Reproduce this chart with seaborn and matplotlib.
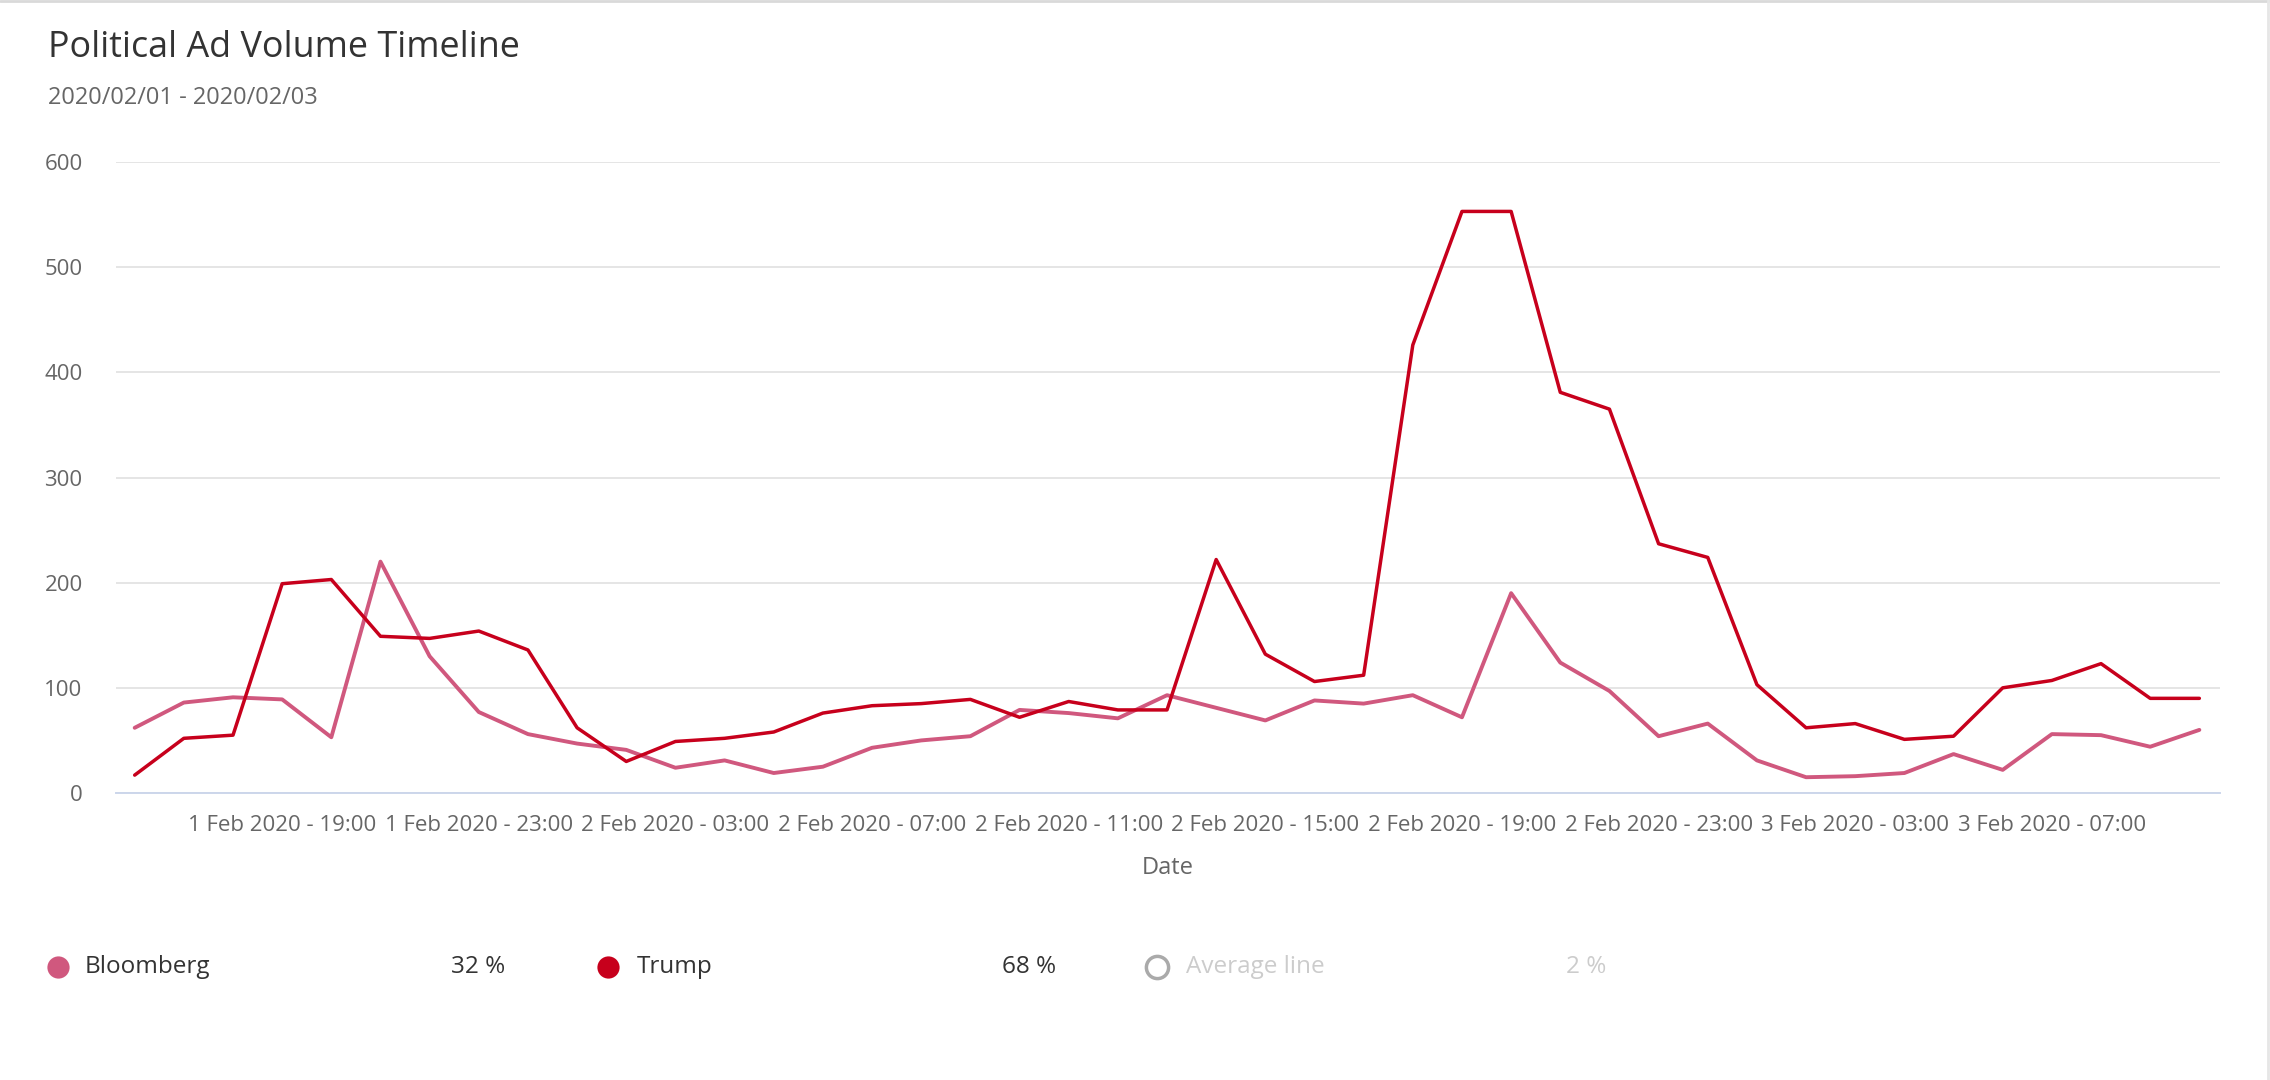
import pandas as pd
import numpy as np
import matplotlib
matplotlib.use("Agg")
import matplotlib.pyplot as plt
from matplotlib.lines import Line2D
import seaborn as sns

# hourly counts, 1 Feb 2020 16:00 -> 3 Feb 2020 10:00
hours = pd.date_range("2020-02-01 16:00", periods=43, freq="h")
bloomberg = [62, 86, 91, 89, 53, 220, 130, 77, 56, 47, 41, 24, 31, 19, 25, 43, 50, 54, 79, 76, 71,
             93, 81, 69, 88, 85, 93, 72, 190, 124, 97, 54, 66, 31, 15, 16, 19, 37, 22, 56, 55, 44, 60]
trump = [17, 52, 55, 199, 203, 149, 147, 154, 136, 62, 30, 49, 52, 58, 76, 83, 85, 89, 72, 87, 79,
         79, 222, 132, 106, 112, 426, 553, 553, 381, 365, 237, 224, 103, 62, 66, 51, 54, 100, 107, 123, 90, 90]

series_names = ["Bloomberg", "Trump", "Average line"]
shares = ["32 %", "68 %", "2 %"]
colors = {"Bloomberg": "#d0587e", "Trump": "#c7001c"}

df = pd.DataFrame({
    "idx": list(range(len(hours))) * 2,
    "count": bloomberg + trump,
    "candidate": ["Bloomberg"] * len(hours) + ["Trump"] * len(hours),
})

sns.set_theme(style="white")
plt.rcParams["font.family"] = ["Open Sans", "DejaVu Sans"]

fig = plt.figure(figsize=(22.7, 10.8), dpi=100)
ax = fig.add_axes([116 / 2270, 1 - 793 / 1080, (2220 - 116) / 2270, (793 - 162) / 1080])

sns.lineplot(data=df, x="idx", y="count", hue="candidate", palette=colors,
             linewidth=2.6, ax=ax, legend=False)
for ln, lw in zip(ax.get_lines(), [2.8, 2.5]):
    ln.set_linewidth(lw)
    ln.set_solid_joinstyle("round")

ax.set_xlim(-0.38, 42.42)
ax.set_ylim(0, 600)
ax.set_yticks(range(0, 601, 100))
ax.grid(axis="y", color="#e3e3e3", linewidth=1.3)
ax.set_axisbelow(True)

tick_idx = list(range(3, len(hours), 4))
ax.set_xticks(tick_idx)
ax.set_xticklabels([f"{hours[i].day} {hours[i]:%b %Y - %H:%M}" for i in tick_idx])

for s in ["top", "right", "left"]:
    ax.spines[s].set_visible(False)
ax.spines["bottom"].set_color("#ccd6eb")
ax.spines["bottom"].set_linewidth(1.4)

ax.tick_params(axis="x", length=13, width=1, color="#ccd6eb", labelsize=16, labelcolor="#666666", pad=3)
ax.tick_params(axis="y", length=0, labelsize=16, labelcolor="#666666", pad=24)
ax.set_xlabel("Date", fontsize=17, color="#666666", labelpad=14)
ax.set_ylabel("")

fig.text(48 / 2270, 1 - 48 / 1080, "Political Ad Volume Timeline", fontsize=25.8, color="#333333", va="center")
fig.text(48 / 2270, 1 - 98 / 1080, "2020/02/01 - 2020/02/03", fontsize=17, color="#666666", va="center")

# legend row
ly = 1 - 967 / 1080
marker_x = [58, 608, 1157]
text_x = [85, 637, 1186]
share_x = [505, 1056, 1606]
for i, name in enumerate(series_names):
    active = name in colors
    mc = colors.get(name, "#aaaaaa")
    fig.add_artist(Line2D([marker_x[i] / 2270], [ly], marker="o", markersize=16,
                          markerfacecolor=mc if active else "white",
                          markeredgecolor=mc, markeredgewidth=2.5 if not active else 0,
                          transform=fig.transFigure))
    tc = "#333333" if active else "#cccccc"
    fig.text(text_x[i] / 2270, ly, name, fontsize=17.5, color=tc, va="center")
    fig.text(share_x[i] / 2270, ly, shares[i], fontsize=17.5, color=tc, va="center", ha="right")

# card border (top and right edges)
fig.add_artist(Line2D([0, 1], [1 - 1 / 1080, 1 - 1 / 1080], color="#d9d9d9", linewidth=2, transform=fig.transFigure))
fig.add_artist(Line2D([1 - 2 / 2270, 1 - 2 / 2270], [0, 1], color="#e6e6e6", linewidth=2, transform=fig.transFigure))

fig.savefig("out.png", dpi=100)
